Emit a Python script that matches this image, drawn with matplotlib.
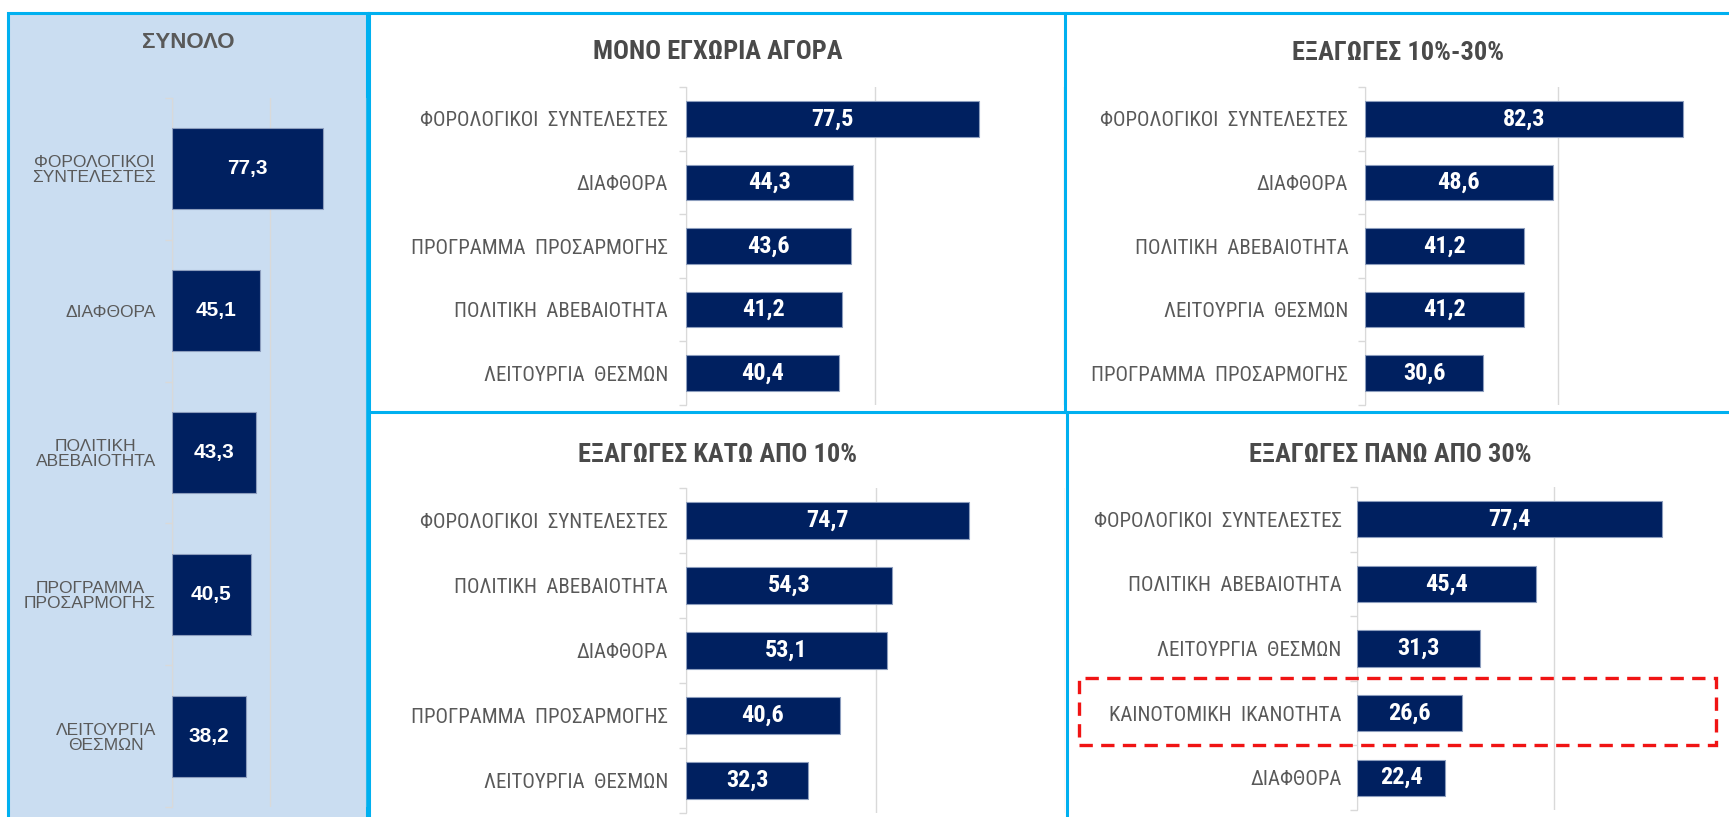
import matplotlib
matplotlib.use("Agg")
import matplotlib.pyplot as plt
from matplotlib import font_manager
from matplotlib.ft2font import FT2Font
from matplotlib.patches import Rectangle
from matplotlib.lines import Line2D
import matplotlib.transforms as mtransforms

# --- data -------------------------------------------------------------
total_title = "ΣΥΝΟΛΟ"
total_cats = ["ΦΟΡΟΛΟΓΙΚΟΙ\nΣΥΝΤΕΛΕΣΤΕΣ", "ΔΙΑΦΘΟΡΑ", "ΠΟΛΙΤΙΚΗ\nΑΒΕΒΑΙΟΤΗΤΑ",
              "ΠΡΟΓΡΑΜΜΑ\nΠΡΟΣΑΡΜΟΓΗΣ", "ΛΕΙΤΟΥΡΓΙΑ\nΘΕΣΜΩΝ"]
total_vals = [77.3, 45.1, 43.3, 40.5, 38.2]

dom_title = "ΜΟΝΟ ΕΓΧΩΡΙΑ ΑΓΟΡΑ"
dom_cats = ["ΦΟΡΟΛΟΓΙΚΟΙ  ΣΥΝΤΕΛΕΣΤΕΣ", "ΔΙΑΦΘΟΡΑ", "ΠΡΟΓΡΑΜΜΑ  ΠΡΟΣΑΡΜΟΓΗΣ",
            "ΠΟΛΙΤΙΚΗ  ΑΒΕΒΑΙΟΤΗΤΑ", "ΛΕΙΤΟΥΡΓΙΑ  ΘΕΣΜΩΝ"]
dom_vals = [77.5, 44.3, 43.6, 41.2, 40.4]

mid_title = "ΕΞΑΓΩΓΕΣ 10%-30%"
mid_cats = ["ΦΟΡΟΛΟΓΙΚΟΙ  ΣΥΝΤΕΛΕΣΤΕΣ", "ΔΙΑΦΘΟΡΑ", "ΠΟΛΙΤΙΚΗ  ΑΒΕΒΑΙΟΤΗΤΑ",
            "ΛΕΙΤΟΥΡΓΙΑ  ΘΕΣΜΩΝ", "ΠΡΟΓΡΑΜΜΑ  ΠΡΟΣΑΡΜΟΓΗΣ"]
mid_vals = [82.3, 48.6, 41.2, 41.2, 30.6]

low_title = "ΕΞΑΓΩΓΕΣ ΚΑΤΩ ΑΠΟ 10%"
low_cats = ["ΦΟΡΟΛΟΓΙΚΟΙ  ΣΥΝΤΕΛΕΣΤΕΣ", "ΠΟΛΙΤΙΚΗ  ΑΒΕΒΑΙΟΤΗΤΑ", "ΔΙΑΦΘΟΡΑ",
            "ΠΡΟΓΡΑΜΜΑ  ΠΡΟΣΑΡΜΟΓΗΣ", "ΛΕΙΤΟΥΡΓΙΑ  ΘΕΣΜΩΝ"]
low_vals = [74.7, 54.3, 53.1, 40.6, 32.3]

high_title = "ΕΞΑΓΩΓΕΣ ΠΑΝΩ ΑΠΟ 30%"
high_cats = ["ΦΟΡΟΛΟΓΙΚΟΙ  ΣΥΝΤΕΛΕΣΤΕΣ", "ΠΟΛΙΤΙΚΗ  ΑΒΕΒΑΙΟΤΗΤΑ", "ΛΕΙΤΟΥΡΓΙΑ  ΘΕΣΜΩΝ",
             "ΚΑΙΝΟΤΟΜΙΚΗ  ΙΚΑΝΟΤΗΤΑ", "ΔΙΑΦΘΟΡΑ"]
high_vals = [77.4, 45.4, 31.3, 26.6, 22.4]
high_mark = "ΚΑΙΝΟΤΟΜΙΚΗ  ΙΚΑΝΟΤΗΤΑ"

# --- style ------------------------------------------------------------
BAR = "#002060"
BAR_EDGE = "#8C9DBD"
LABEL = "#595959"
TITLE = "#4A4A4A"
GRID = "#D9D9D9"
FRAME = "#00B0F0"
PANEL_BG = "#CADDF1"

fonts = font_manager.fontManager.ttflist
installed = {f.name for f in fonts}
regular = "Liberation Sans" if "Liberation Sans" in installed else "DejaVu Sans"


def has_greek(fname):
    try:
        cmap = FT2Font(fname).get_charmap()
    except Exception:
        return False
    return all(ord(c) in cmap for c in "ΣΩΦΛ")


def find_narrow():
    # a narrow face (Arial Narrow look-alike) with Greek in regular and bold
    cands = ["Liberation Sans Narrow", "Arial Narrow", "Roboto Condensed", "Fira Sans Condensed",
             "Open Sans Condensed", "Ubuntu Condensed", "IBM Plex Sans Condensed", "Noto Sans",
             "Archivo Narrow", "Asap Condensed", "Encode Sans Condensed"]
    for fam in cands:
        ents = [f for f in fonts if f.name == fam and f.style == "normal"
                and (f.stretch != "normal" or "Narrow" in fam or "Condensed" in fam)]
        reg = [f for f in ents if f.weight in (400, "normal", "regular")]
        bold = [f for f in ents if f.weight in (700, "bold")]
        if reg and bold and has_greek(reg[0].fname) and has_greek(bold[0].fname):
            return fam, reg[0].stretch
    return regular, "normal"


narrow, stretch = find_narrow()
shrink = 1.0 if narrow != regular else 0.8
NF = dict(fontfamily=narrow, fontstretch=stretch)

W, H = 1729, 817
fig = plt.figure(figsize=(W / 100, H / 100), dpi=100)
fig.patch.set_facecolor("white")


def fx(x):
    return x / W


def fy(y):
    return 1 - y / H


def add_ax(x0, x1, y0, y1):
    return fig.add_axes([fx(x0), fy(y1), fx(x1 - x0), (y1 - y0) / H])


def fmt(v):
    return f"{v:.1f}".replace(".", ",")


def bar_panel(ax, cats, vals, font, lab_size, val_size, pad, height):
    y = list(range(len(cats)))
    bars = ax.barh(y, vals, height=height, color=BAR, edgecolor=BAR_EDGE, linewidth=0.8, zorder=3)
    ax.set_xlim(0, 100)
    ax.set_ylim(len(cats) - 0.5, -0.5)
    ax.set_yticks(y)
    ax.set_yticklabels(cats, fontsize=lab_size, color=LABEL, ma="center", linespacing=1.0, **font)
    ax.set_yticks([i - 0.5 for i in range(len(cats) + 1)], minor=True)
    ax.tick_params(axis="y", which="major", length=0, pad=pad)
    ax.tick_params(axis="y", which="minor", length=5, color=GRID, width=1)
    ax.set_xticks([0, 50, 100])
    ax.tick_params(axis="x", length=0, labelbottom=False)
    ax.xaxis.grid(True, color=GRID, linewidth=1, zorder=0)
    for s in ["top", "right", "bottom"]:
        ax.spines[s].set_visible(False)
    ax.spines["left"].set_color(GRID)
    ax.patch.set_alpha(0)
    ax.bar_label(bars, labels=[fmt(v) for v in vals], label_type="center", color="white",
                 fontweight="bold", fontsize=val_size, **font)
    return bars


# left panel background and frame
fig.patches.append(Rectangle((fx(8), fy(830)), fx(367 - 8), (830 - 13) / H, transform=fig.transFigure,
                             facecolor=PANEL_BG, edgecolor=FRAME, linewidth=2.2, zorder=-2))

# panel frame lines
for xs, ys in [([369, 1729], [13, 13]), ([369, 369], [13, 830]), ([1065, 1065], [13, 412]),
               ([1067, 1067], [412, 830]), ([369, 1729], [412, 412])]:
    fig.add_artist(Line2D([fx(v) for v in xs], [fy(v) for v in ys], color=FRAME, linewidth=2.2,
                          transform=fig.transFigure, zorder=-1))

# total
ax0 = add_ax(172, 367, 98, 807)
bar_panel(ax0, total_cats, total_vals, dict(fontfamily=regular), 12.5, 15, 11.5, 0.57)
fig.text(fx(188), fy(42), total_title, ha="center", va="center", fontfamily=regular,
         fontweight="bold", fontsize=16, color=LABEL)

panels = [
    (686, 1064, 87, 405, dom_cats, dom_vals, dom_title, 718, 52, 13),
    (1365, 1751, 87, 405, mid_cats, mid_vals, mid_title, 1398, 53, 12),
    (686, 1065, 488, 813, low_cats, low_vals, low_title, 718, 455, 13),
    (1357, 1751, 487, 810, high_cats, high_vals, high_title, 1390, 455, 11),
]
axes = []
for x0, x1, y0, y1, cats, vals, title, tx, ty, pad in panels:
    ax = add_ax(x0, x1, y0, y1)
    bar_panel(ax, cats, vals, NF, 15 * shrink, 17.5 * shrink, pad, 0.56)
    fig.text(fx(tx), fy(ty), title, ha="center", va="center", fontweight="bold",
             fontsize=19 * shrink, color=TITLE, **NF)
    axes.append(ax)

# dashed highlight around one category of the last panel
ax_hi = axes[-1]
k = high_cats.index(high_mark)
tr = mtransforms.blended_transform_factory(fig.transFigure, ax_hi.transData)
ax_hi.add_patch(Rectangle((fx(1079), k + 0.5), fx(1716 - 1079), -1.05, transform=tr, fill=False,
                          edgecolor="#F01414", linewidth=2.4, linestyle=(0, (4, 2.5)),
                          clip_on=False, zorder=5))

fig.savefig("out.png", dpi=100, facecolor=fig.get_facecolor())
